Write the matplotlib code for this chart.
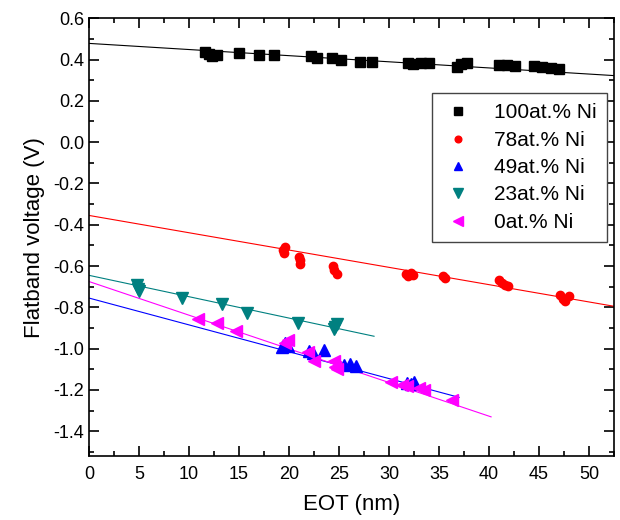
import matplotlib
matplotlib.use("Agg")
import matplotlib.pyplot as plt
from matplotlib.ticker import MultipleLocator
import numpy as np

plt.rcParams['font.family'] = ['Liberation Sans', 'DejaVu Sans']

# data: EOT (nm) vs flatband voltage (V)
eot_100 = [11.6, 12.0, 12.3, 12.8, 15.0, 17.0, 18.5, 22.2, 22.8, 24.3, 25.2, 27.1, 28.3,
           31.9, 32.4, 33.2, 34.0, 36.8, 37.2, 37.8, 41.0, 41.8, 42.6, 44.5, 45.3, 46.2, 47.0]
vfb_100 = [0.435, 0.425, 0.415, 0.42, 0.43, 0.42, 0.42, 0.415, 0.405, 0.405, 0.40, 0.39, 0.39,
           0.385, 0.38, 0.385, 0.385, 0.365, 0.38, 0.385, 0.375, 0.375, 0.37, 0.37, 0.365, 0.36, 0.355]

eot_78 = [19.4, 19.5, 19.6, 21.0, 21.1, 21.1, 24.4, 24.5, 24.8, 31.7, 31.9, 32.2, 32.4,
          35.4, 35.6, 41.0, 41.3, 41.6, 41.9, 47.1, 47.4, 47.6, 48.0]
vfb_78 = [-0.52, -0.535, -0.51, -0.555, -0.57, -0.59, -0.60, -0.62, -0.64, -0.64, -0.65, -0.635, -0.645,
          -0.65, -0.66, -0.67, -0.68, -0.69, -0.695, -0.74, -0.76, -0.77, -0.745]

eot_49 = [19.3, 19.6, 19.9, 22.0, 22.4, 23.5, 25.5, 26.1, 26.7, 31.8, 32.2, 32.5]
vfb_49 = [-0.99, -0.975, -0.985, -1.01, -1.02, -1.005, -1.08, -1.075, -1.085, -1.165, -1.17, -1.16]

eot_23 = [4.8, 4.9, 5.0, 9.3, 13.3, 15.8, 20.9, 24.5, 24.8, 24.6]
vfb_23 = [-0.69, -0.71, -0.72, -0.755, -0.785, -0.825, -0.875, -0.905, -0.88, -0.895]

eot_0 = [10.9, 12.8, 14.7, 19.6, 19.9, 21.9, 22.5, 24.5, 24.8, 24.6, 30.2, 31.3, 31.8, 33.0, 33.5, 36.3]
vfb_0 = [-0.855, -0.875, -0.915, -0.975, -0.96, -1.015, -1.06, -1.06, -1.1, -1.09, -1.16, -1.175,
         -1.18, -1.19, -1.2, -1.25]

labels = ["100at.% Ni", "78at.% Ni", "49at.% Ni", "23at.% Ni", "0at.% Ni"]
colors = ["black", "#FF0000", "#0000FF", "#008080", "#FF00FF"]
markers = ["s", "o", "^", "v", "<"]
msizes = [6.5, 6, 8, 8.5, 8.5]

# linear fits as drawn in the figure
fit_intercept = [0.478, -0.355, -0.755, -0.645, -0.675]
fit_slope = [-0.00297, -0.00838, -0.0130, -0.01035, -0.0163]
fit_xmax = [52.5, 52.5, 37.0, 28.5, 40.2]

eots = [eot_100, eot_78, eot_49, eot_23, eot_0]
vfbs = [vfb_100, vfb_78, vfb_49, vfb_23, vfb_0]

fig = plt.figure(figsize=(6.2, 5.2), dpi=100)
ax = fig.add_axes([0.1435, 0.123, 0.847, 0.842])

for i in range(5):
    xs = np.array([0, fit_xmax[i]])
    ax.plot(xs, fit_intercept[i] + fit_slope[i] * xs, color=colors[i], lw=0.8, zorder=2)
for i in range(5):
    ax.plot(eots[i], vfbs[i], linestyle='none', marker=markers[i], ms=msizes[i],
            color=colors[i], mec=colors[i], label=labels[i], zorder=3)

ax.set_xlim(0, 52.5)
ax.set_ylim(-1.52, 0.6)
ax.xaxis.set_major_locator(MultipleLocator(5))
ax.xaxis.set_minor_locator(MultipleLocator(2.5))
ax.yaxis.set_major_locator(MultipleLocator(0.2))
ax.yaxis.set_minor_locator(MultipleLocator(0.1))
ax.yaxis.set_major_formatter(plt.FuncFormatter(lambda v, p: f"{v:.1f}"))
ax.tick_params(which='both', direction='in', top=True, right=True, width=1.2, labelsize=13)
ax.tick_params(which='major', length=7)
ax.tick_params(which='minor', length=3.5)
ax.tick_params(axis='x', pad=7)
for s in ax.spines.values():
    s.set_linewidth(1.2)

ax.set_xlabel("EOT (nm)", fontsize=16, labelpad=8)
ax.set_ylabel("Flatband voltage (V)", fontsize=16, labelpad=6)

leg = ax.legend(loc='upper right', bbox_to_anchor=(0.987, 0.829), fontsize=15,
                fancybox=False, edgecolor='#444444', framealpha=1, borderpad=0.5,
                labelspacing=0.4, handletextpad=1.0, handlelength=1.5, borderaxespad=0,
                markerscale=0.8)
leg.get_frame().set_linewidth(1.0)

fig.savefig("out.png", dpi=100)
